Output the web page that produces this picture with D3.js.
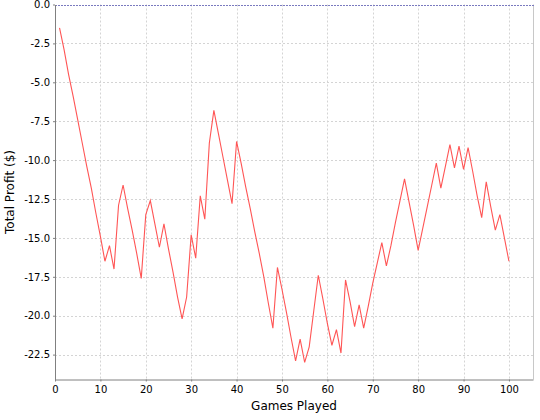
<!DOCTYPE html>
<html>
<head>
<meta charset="utf-8">
<script src="https://cdn.jsdelivr.net/npm/d3@7"></script>
<style>
  body { margin: 0; background: #fff; }
  .tick text { font-family: "DejaVu Sans", sans-serif; font-size: 10px; fill: #000; }
  .axisLabel { font-family: "DejaVu Sans", sans-serif; font-size: 12px; fill: #000; }
</style>
</head>
<body>
<svg id="chart" width="540" height="420"></svg>
<script>
// games played (x) and running total profit (y)
var games = d3.range(1, 101);
var profit = [
  -1.5, -2.9, -4.5, -5.9, -7.4, -8.9, -10.4, -11.8, -13.4, -14.9,
  -16.5, -15.5, -17.0, -12.9, -11.6, -13.1, -14.5, -16.0, -17.6, -13.5,
  -12.6, -14.1, -15.6, -14.1, -15.7, -17.2, -18.8, -20.2, -18.8, -14.8,
  -16.3, -12.3, -13.8, -8.9, -6.8, -8.3, -9.8, -11.3, -12.8, -8.8,
  -10.2, -11.7, -13.1, -14.6, -16.0, -17.5, -19.2, -20.8, -16.9, -18.3,
  -19.8, -21.4, -22.9, -21.5, -23.0, -22.0, -19.7, -17.4, -18.9, -20.5,
  -21.9, -20.9, -22.4, -17.7, -19.1, -20.7, -19.3, -20.8, -19.4, -17.9,
  -16.6, -15.3, -16.8, -15.5, -14.0, -12.6, -11.2, -12.7, -14.2, -15.8,
  -14.4, -13.0, -11.6, -10.2, -11.8, -10.4, -9.0, -10.5, -9.1, -10.6,
  -9.2, -10.7, -12.3, -13.7, -11.4, -13.0, -14.5, -13.5, -15.0, -16.5
];
var xTicks = [0, 10, 20, 30, 40, 50, 60, 70, 80, 90, 100];
var yTicks = [0, -2.5, -5, -7.5, -10, -12.5, -15, -17.5, -20, -22.5];

var svg = d3.select("#chart");
var plotLeft = 55, plotRight = 533, plotTop = 4.5, plotBottom = 379.5;

var xScale = d3.scaleLinear().domain([0, 105.3]).range([plotLeft, plotRight]);
var yScale = d3.scaleLinear().domain([-24.1, 0]).range([plotBottom, plotTop]);

// gridlines
var grid = svg.append("g");
grid.selectAll("line.v").data(xTicks.slice(1)).enter().append("line")
  .attr("x1", function (d) { return Math.round(xScale(d)) + 0.5; })
  .attr("x2", function (d) { return Math.round(xScale(d)) + 0.5; })
  .attr("y1", plotTop).attr("y2", plotBottom)
  .attr("stroke", "#d4d4d4").attr("stroke-dasharray", "2,2");
grid.selectAll("line.h").data(yTicks.slice(1)).enter().append("line")
  .attr("y1", function (d) { return Math.round(yScale(d)) + 0.5; })
  .attr("y2", function (d) { return Math.round(yScale(d)) + 0.5; })
  .attr("x1", plotLeft).attr("x2", plotRight)
  .attr("stroke", "#d4d4d4").attr("stroke-dasharray", "2,2");

// right border
svg.append("line")
  .attr("x1", plotRight + 0.5).attr("x2", plotRight + 0.5)
  .attr("y1", plotTop).attr("y2", plotBottom)
  .attr("stroke", "#c8c8c8");

// zero line at top
svg.append("line")
  .attr("x1", plotLeft).attr("x2", plotRight + 1)
  .attr("y1", Math.round(yScale(0)) + 0.5).attr("y2", Math.round(yScale(0)) + 0.5)
  .attr("stroke", "#7a7abf").attr("stroke-dasharray", "2,1");

var fmt = function (d) { return d3.format(".1f")(d).replace("\u2212", "-"); };

var xAxis = d3.axisBottom(xScale).tickValues(xTicks).tickSize(2).tickSizeOuter(0)
  .tickFormat(function (d) { return String(d); });
var yAxis = d3.axisLeft(yScale).tickValues(yTicks).tickSize(2).tickSizeOuter(0)
  .tickFormat(fmt);

var gx = svg.append("g")
  .attr("transform", "translate(0," + plotBottom + ")")
  .call(xAxis);
gx.select(".domain").attr("stroke", "#808080");
gx.selectAll(".tick line").attr("stroke", "#808080");
gx.selectAll(".tick text").attr("dy", "0.71em").attr("y", 6);

var gy = svg.append("g")
  .attr("transform", "translate(" + plotLeft + ",0)")
  .call(yAxis);
gy.select(".domain").attr("stroke", "#808080");
gy.selectAll(".tick line").attr("stroke", "#808080");
gy.selectAll(".tick text").attr("x", -5);

// the profit line
var line = d3.line()
  .x(function (d, i) { return xScale(games[i]); })
  .y(function (d) { return yScale(d); });

svg.append("path")
  .datum(profit)
  .attr("d", line)
  .attr("fill", "none")
  .attr("stroke", "#ff5555")
  .attr("stroke-width", 1.1);

// axis labels
svg.append("text").attr("class", "axisLabel")
  .attr("x", (plotLeft + plotRight) / 2).attr("y", 410)
  .attr("text-anchor", "middle")
  .text("Games Played");

svg.append("text").attr("class", "axisLabel")
  .attr("transform", "translate(14," + ((plotTop + plotBottom) / 2) + ") rotate(-90)")
  .attr("text-anchor", "middle")
  .text("Total Profit ($)");
</script>
</body>
</html>
